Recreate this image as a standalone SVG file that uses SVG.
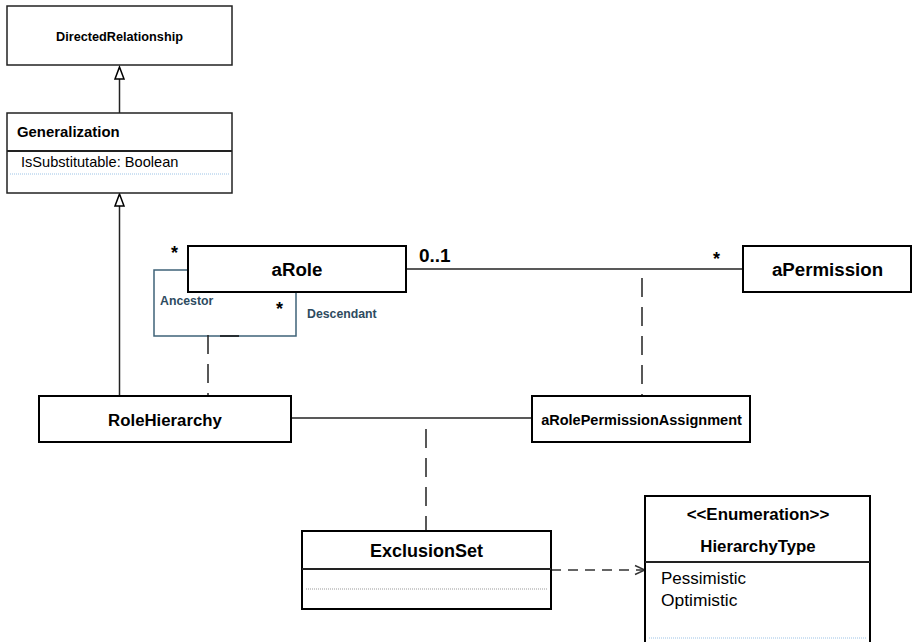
<svg xmlns="http://www.w3.org/2000/svg" width="913" height="642" viewBox="0 0 913 642">
  <style>
    text { font-family: "Liberation Sans", Arial, sans-serif; fill: #000; }
    .b { font-weight: bold; }
    .mid { text-anchor: middle; }
    .box { fill: #fff; stroke: #000; stroke-width: 2; }
    .box-thin { fill: #fff; stroke: #222; stroke-width: 1.5; }
    .sep { stroke: #222; stroke-width: 2; fill: none; }
    .dot-blue { stroke: #9cc3e6; stroke-width: 1; stroke-dasharray: 1 1; fill: none; }
    .dot-grey { stroke: #999; stroke-width: 1; stroke-dasharray: 1 1; fill: none; }
    .assoc { stroke: #222; stroke-width: 1.5; fill: none; }
    .dash { stroke: #222; stroke-width: 1.5; fill: none; stroke-dasharray: 19 10; }
    .dep { stroke: #333; stroke-width: 1.5; fill: none; stroke-dasharray: 10 7; }
    .self { stroke: #3f6378; stroke-width: 1.5; fill: none; }
    .head { fill: #fff; stroke: #000; stroke-width: 1.5; stroke-linejoin: miter; }
    .role { fill: #2e4b5f; font-weight: bold; font-size: 12.3px; }
    .mult { font-weight: bold; font-size: 18px; }
  </style>
  <defs>
    <marker id="open" markerWidth="12" markerHeight="12" refX="11" refY="6" orient="auto" markerUnits="userSpaceOnUse" viewBox="0 0 12 12">
      <path d="M1 1.5 L11 6 L1 10.5" fill="none" stroke="#333" stroke-width="1.5"/>
    </marker>
  </defs>

  <!-- connectors -->
  <g id="connectors">
    <!-- generalizations with hollow triangle heads -->
    <line x1="119.5" y1="113" x2="119.5" y2="79" class="assoc"/>
    <polygon points="119.5,67 124,79 115,79" class="head"/>
    <line x1="119.5" y1="396" x2="119.5" y2="206" class="assoc"/>
    <polygon points="119.5,194 124,206 115,206" class="head"/>
    <!-- aRole to aPermission association -->
    <line x1="406" y1="269" x2="743" y2="269" class="assoc"/>
    <!-- aRole reflexive hierarchy association -->
    <path d="M188 270 H154 V336 H296 V292" class="self"/>
    <line x1="220" y1="336" x2="239" y2="336" stroke="#111" stroke-width="1.5"/>
    <!-- association class links -->
    <line x1="208" y1="335" x2="208" y2="396" class="dash"/>
    <line x1="642" y1="278" x2="642" y2="395" class="dash" stroke-dasharray="20 10"/>
    <!-- RoleHierarchy to aRolePermissionAssignment -->
    <line x1="291" y1="418" x2="532" y2="418" class="assoc"/>
    <line x1="426" y1="429" x2="426" y2="531" class="dash"/>
    <!-- ExclusionSet depends on HierarchyType -->
    <line x1="551" y1="570" x2="645" y2="570" class="dep" marker-end="url(#open)"/>
    <!-- multiplicities and role names -->
    <text x="419" y="262" class="b" font-size="19">0..1</text>
    <text x="713" y="265" class="mult">*</text>
    <text x="171" y="259" class="mult">*</text>
    <text x="276" y="315" class="mult">*</text>
    <text x="160" y="305" class="role">Ancestor</text>
    <text x="307" y="318" class="role">Descendant</text>
  </g>

  <g id="DirectedRelationship">
    <rect x="7" y="6" width="225" height="59" class="box-thin"/>
    <text x="119.5" y="41" class="b mid" font-size="12.7">DirectedRelationship</text>
  </g>

  <g id="Generalization">
    <rect x="7" y="113" width="225" height="80" class="box-thin"/>
    <line x1="7" y1="151" x2="232" y2="151" class="sep"/>
    <text x="17" y="137" class="b" font-size="14.9">Generalization</text>
    <text x="21" y="167" font-size="14.6">IsSubstitutable: Boolean</text>
    <line x1="10" y1="174" x2="229" y2="174" class="dot-blue"/>
  </g>

  <g id="aRole">
    <rect x="188" y="246" width="218" height="46" class="box"/>
    <text x="297" y="276" class="b mid" font-size="18.7">aRole</text>
  </g>

  <g id="aPermission">
    <rect x="743" y="246" width="168" height="46" class="box"/>
    <text x="827.5" y="276" class="b mid" font-size="18.7">aPermission</text>
  </g>

  <g id="RoleHierarchy">
    <rect x="39" y="396" width="252" height="46" class="box"/>
    <text x="165" y="425.5" class="b mid" font-size="16.8">RoleHierarchy</text>
  </g>

  <g id="aRolePermissionAssignment">
    <rect x="532" y="396" width="218" height="46" class="box"/>
    <text x="641.5" y="425" class="b mid" font-size="14.5">aRolePermissionAssignment</text>
  </g>

  <g id="ExclusionSet">
    <rect x="302" y="531" width="249" height="78" class="box"/>
    <line x1="302" y1="569" x2="551" y2="569" class="sep"/>
    <text x="426.5" y="557" class="b mid" font-size="18">ExclusionSet</text>
    <line x1="306" y1="589" x2="547" y2="589" class="dot-grey"/>
  </g>

  <g id="HierarchyType">
    <rect x="645" y="496" width="225" height="170" class="box"/>
    <line x1="645" y1="562" x2="870" y2="562" class="sep"/>
    <text x="758" y="519.5" class="b mid" font-size="16.9">&lt;&lt;Enumeration&gt;&gt;</text>
    <text x="758" y="552" class="b mid" font-size="16.8">HierarchyType</text>
    <text x="661" y="583.5" font-size="17">Pessimistic</text>
    <text x="661" y="606" font-size="17.4">Optimistic</text>
    <line x1="649" y1="638" x2="867" y2="638" class="dot-blue"/>
  </g>
</svg>
